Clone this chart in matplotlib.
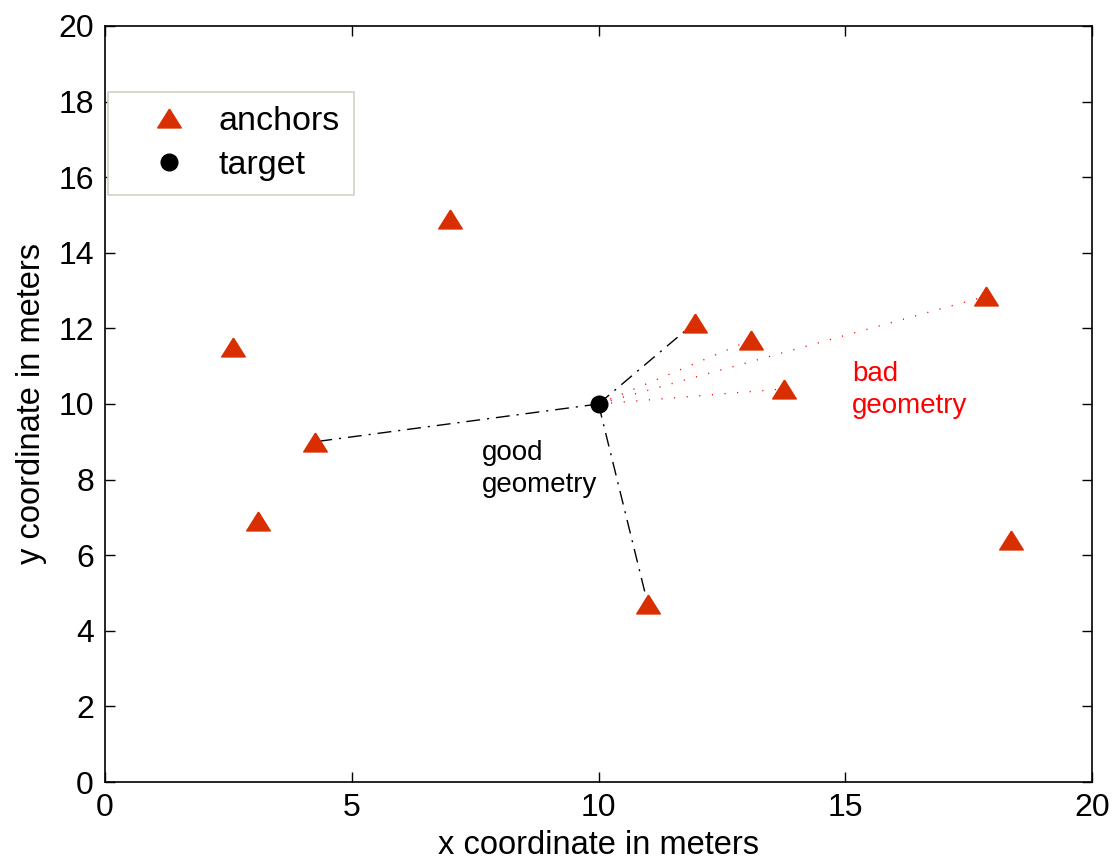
import matplotlib
matplotlib.use("Agg")
import matplotlib.pyplot as plt

plt.rcParams['font.family'] = ['Liberation Sans', 'DejaVu Sans']

# data
anchor_x = [2.6, 7.0, 4.25, 3.1, 11.95, 13.1, 13.75, 17.85, 18.35, 11.0]
anchor_y = [11.5, 14.9, 9.0, 6.9, 12.15, 11.7, 10.4, 12.85, 6.4, 4.7]
target = (10.0, 10.0)
good_idx = [2, 4, 9]
bad_idx = [5, 6, 7]
xticks = [0, 5, 10, 15, 20]
yticks = [0, 2, 4, 6, 8, 10, 12, 14, 16, 18, 20]

fig = plt.figure(figsize=(11.15, 8.64), dpi=100)
ax = fig.add_axes([105/1115, 1-782/864, 987/1115, 756/864])

tri = [(0, 0.8), (-1, -0.8), (1, -0.8), (0, 0.8)]
red = '#d92e00'

for i in good_idx:
    ax.plot([target[0], anchor_x[i]], [target[1], anchor_y[i]], color='black',
            lw=1.0, linestyle=(0, (10, 5, 1.5, 5)), zorder=2)
for i in bad_idx:
    ax.plot([target[0], anchor_x[i]], [target[1], anchor_y[i]], color='red',
            lw=1.0, linestyle=(0, (0.8, 8.3)), zorder=2)

ax.plot(anchor_x, anchor_y, linestyle='none', marker=tri, markersize=17,
        color=red, markeredgecolor=red, label='anchors', zorder=3)
ax.plot([target[0]], [target[1]], linestyle='none', marker='o', markersize=12,
        color='black', label='target', zorder=3)

ax.text(7.64, 9.05, 'good\ngeometry', fontsize=20, ha='left', va='top',
        color='black', linespacing=1.3)
ax.text(15.14, 11.15, 'bad\ngeometry', fontsize=20, ha='left', va='top',
        color='red', linespacing=1.3)

ax.set_xlim(0, 20)
ax.set_ylim(0, 20)
ax.set_xticks(xticks)
ax.set_yticks(yticks)
ax.tick_params(direction='in', length=7, width=1, top=True, right=True,
               labelsize=23, pad=8)
for s in ax.spines.values():
    s.set_linewidth(1.2)
ax.set_xlabel('x coordinate in meters', fontsize=23.5, labelpad=5)
ax.set_ylabel('y coordinate in meters', fontsize=23.5, labelpad=8)

leg = ax.legend(loc='upper left', bbox_to_anchor=(108/1115, 1-92/864),
                bbox_transform=fig.transFigure, borderaxespad=0,
                fontsize=24.5, fancybox=False, frameon=True, framealpha=1,
                handlelength=2.75, handletextpad=0.09, borderpad=0.42,
                labelspacing=0.36, numpoints=1)
leg.get_frame().set_edgecolor('#d4d0c8')
leg.get_frame().set_linewidth(1.2)

fig.savefig('out.png', dpi=100)
